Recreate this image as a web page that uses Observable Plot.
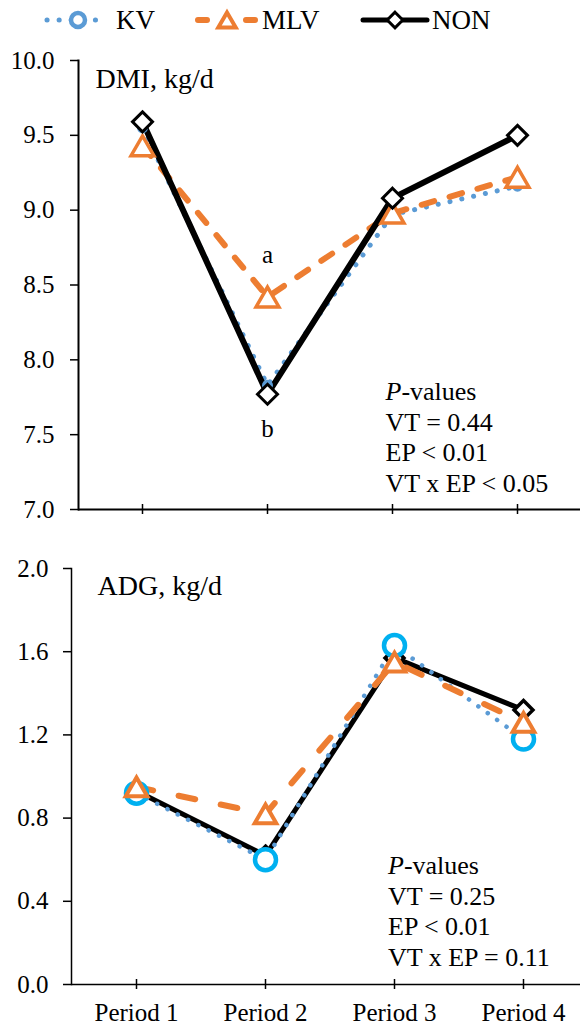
<!DOCTYPE html>
<html><head><meta charset="utf-8">
<script src="https://cdn.jsdelivr.net/npm/d3@7"></script>
<script src="https://cdn.jsdelivr.net/npm/@observablehq/plot@0.6"></script>
<style>
html,body{margin:0;padding:0;background:#fff;overflow:hidden;}
#chart{width:580px;height:1031px;}
#chart svg{display:block;}
</style></head><body><div id="chart"></div>
<script>
// ---- data ----
const periods = ["Period 1", "Period 2", "Period 3", "Period 4"];
const seriesNames = ["KV", "MLV", "NON"];
const dmiKV  = [9.55, 7.83, 8.97, 9.16];
const dmiMLV = [9.43, 8.42, 8.98, 9.22];
const dmiNON = [9.59, 7.77, 9.08, 9.50];
const adgKV  = [0.92, 0.60, 1.63, 1.18];
const adgMLV = [0.95, 0.82, 1.55, 1.26];
const adgNON = [0.93, 0.62, 1.57, 1.32];
const dmiTicks = [7.0, 7.5, 8.0, 8.5, 9.0, 9.5, 10.0];
const adgTicks = [0.0, 0.4, 0.8, 1.2, 1.6, 2.0];
const dmiTitle = "DMI, kg/d";
const adgTitle = "ADG, kg/d";
const dmiP = ["P-values", "VT = 0.44", "EP < 0.01", "VT x EP < 0.05"];
const adgP = ["P-values", "VT = 0.25", "EP < 0.01", "VT x EP = 0.11"];
const dmiLetters = ["a", "b"];

// ---- styles ----
const FONT = '"Liberation Serif", "Times New Roman", serif';
const KV_LINE = "#5B9BD5", KV_MARK = "#00B0F0", MLV_C = "#ED7D31", NON_C = "#000000";

const rows = vals => vals.map((v, i) => ({period: periods[i], value: v}));
const fmt = d3.format(".1f");

function italicP(svg) {
  d3.select(svg).selectAll("tspan, text").filter(function () {
    return this.childElementCount === 0 && this.textContent === "P-values";
  }).each(function () {
    this.textContent = "";
    const t = d3.select(this);
    t.append("tspan").attr("font-style", "italic").text("P");
    t.append("tspan").text("-values");
  });
}

const chart = document.getElementById("chart");

// ---- legend ----
const legend = d3.create("svg").attr("width", 580).attr("height", 40)
  .attr("font-family", FONT).attr("font-size", 27);
const ly = 20;
// KV
legend.append("line").attr("x1", 47).attr("x2", 97).attr("y1", ly).attr("y2", ly)
  .attr("stroke", KV_LINE).attr("stroke-width", 5).attr("stroke-linecap", "round").attr("stroke-dasharray", "0.1 12");
legend.append("circle").attr("cx", 78).attr("cy", ly).attr("r", 7)
  .attr("fill", "white").attr("stroke", KV_LINE).attr("stroke-width", 4.5);
legend.append("text").attr("x", 116).attr("y", 29).text(seriesNames[0]);
// MLV
legend.append("line").attr("x1", 198).attr("x2", 255).attr("y1", ly).attr("y2", ly)
  .attr("stroke", MLV_C).attr("stroke-width", 6).attr("stroke-linecap", "round").attr("stroke-dasharray", "9 39");
legend.append("path").attr("transform", `translate(227,${ly + 2.5})`)
  .attr("d", d3.symbol(d3.symbolTriangle, Math.PI * 6.5 * 6.5)())
  .attr("fill", "white").attr("stroke", MLV_C).attr("stroke-width", 4);
legend.append("text").attr("x", 262).attr("y", 29).text(seriesNames[1]);
// NON
legend.append("line").attr("x1", 363).attr("x2", 427).attr("y1", ly).attr("y2", ly)
  .attr("stroke", NON_C).attr("stroke-width", 5).attr("stroke-linecap", "round");
legend.append("path").attr("transform", `translate(395,${ly})`)
  .attr("d", d3.symbol(d3.symbolDiamond2, Math.PI * 7 * 7)())
  .attr("fill", "white").attr("stroke", NON_C).attr("stroke-width", 3);
legend.append("text").attr("x", 432).attr("y", 29).text(seriesNames[2]);
chart.appendChild(legend.node());

// ---- top panel: DMI ----
const dmiMin = dmiTicks[0], dmiMax = dmiTicks[dmiTicks.length - 1];
const topPlot = Plot.plot({
  width: 580, height: 489,
  marginTop: 20, marginBottom: 20, marginLeft: 78, marginRight: 0,
  style: {fontFamily: FONT, fontSize: "25px", color: "black", background: "white"},
  x: {type: "point", domain: periods, range: [78, 580], padding: 0.5, axis: null},
  y: {domain: [dmiMin, dmiMax]},
  marks: [
    Plot.axisY({ticks: dmiTicks, tickFormat: fmt, tickSize: 8, tickPadding: 16, strokeWidth: 1.5, fontSize: 25, label: null}),
    Plot.ruleY([dmiMin], {strokeWidth: 2}),
    Plot.frame({anchor: "left", strokeWidth: 2}),
    Plot.ruleX(periods, {x: d => d, y1: dmiMin, y2: dmiMin, insetTop: -5, insetBottom: -5, strokeWidth: 1.5}),
    Plot.line(rows(dmiKV), {x: "period", y: "value", stroke: KV_LINE, strokeWidth: 5, strokeLinecap: "round", strokeDasharray: "0.1 12"}),
    Plot.line(rows(dmiMLV), {x: "period", y: "value", stroke: MLV_C, strokeWidth: 6, strokeLinecap: "round", strokeDasharray: "13 16"}),
    Plot.line(rows(dmiNON), {x: "period", y: "value", stroke: NON_C, strokeWidth: 6}),
    Plot.dot(rows(dmiKV), {x: "period", y: "value", r: 5.5, fill: KV_LINE, stroke: "none"}),
    Plot.dot(rows(dmiMLV), {x: "period", y: "value", symbol: "triangle", r: 8.5, dy: 3.3, fill: "white", stroke: MLV_C, strokeWidth: 3.5}),
    Plot.dot(rows(dmiNON), {x: "period", y: "value", symbol: "diamond2", r: 9, fill: "white", stroke: NON_C, strokeWidth: 3}),
    Plot.text([{period: periods[1], value: dmiMLV[1], t: dmiLetters[0]}], {x: "period", y: "value", text: "t", dy: -42, fontSize: 25}),
    Plot.text([{period: periods[1], value: dmiNON[1], t: dmiLetters[1]}], {x: "period", y: "value", text: "t", dy: 35, fontSize: 25}),
    Plot.text([dmiTitle], {text: d => d, frameAnchor: "top-left", textAnchor: "start", lineAnchor: "top", dx: 17, dy: 8, fontSize: 28}),
    Plot.text([{period: periods[2], value: dmiMin, t: dmiP.join("\n")}], {x: "period", y: "value", text: "t", textAnchor: "start", lineAnchor: "bottom", lineHeight: 1.17, dx: -7, dy: -18, fontSize: 26})
  ]
});
italicP(topPlot);
chart.appendChild(topPlot);

// ---- bottom panel: ADG ----
const adgMin = adgTicks[0], adgMax = adgTicks[adgTicks.length - 1];
const botPlot = Plot.plot({
  width: 580, height: 502,
  marginTop: 39, marginBottom: 47, marginLeft: 71, marginRight: 0,
  style: {fontFamily: FONT, fontSize: "25px", color: "black", background: "white"},
  x: {type: "point", domain: periods, range: [71, 587], padding: 0.5},
  y: {domain: [adgMin, adgMax]},
  marks: [
    Plot.axisY({ticks: adgTicks, tickFormat: fmt, tickSize: 8, tickPadding: 15, strokeWidth: 1.5, fontSize: 25, label: null}),
    Plot.axisX({tickSize: 0, tickPadding: 19, fontSize: 25, label: null}),
    Plot.ruleY([adgMin], {strokeWidth: 1.5}),
    Plot.frame({anchor: "left", strokeWidth: 1.5}),
    Plot.ruleX(periods, {x: d => d, y1: adgMin, y2: adgMin, insetTop: -5, insetBottom: -5, strokeWidth: 1.5}),
    Plot.line(rows(adgNON), {x: "period", y: "value", stroke: NON_C, strokeWidth: 5}),
    Plot.line(rows(adgKV), {x: "period", y: "value", stroke: KV_LINE, strokeWidth: 4.5, strokeLinecap: "round", strokeDasharray: "0.1 11.5"}),
    Plot.line(rows(adgMLV), {x: "period", y: "value", stroke: MLV_C, strokeWidth: 6, strokeLinecap: "round", strokeDasharray: "17 26"}),
    Plot.dot(rows(adgNON), {x: "period", y: "value", symbol: "diamond2", r: 8.5, fill: "white", stroke: NON_C, strokeWidth: 3.5}),
    Plot.dot(rows(adgKV), {x: "period", y: "value", r: 10.5, fill: "white", stroke: KV_MARK, strokeWidth: 4.5}),
    Plot.dot(rows(adgMLV), {x: "period", y: "value", symbol: "triangle", r: 8, dy: 3.1, fill: "white", stroke: MLV_C, strokeWidth: 4}),
    Plot.text([adgTitle], {text: d => d, frameAnchor: "top-left", textAnchor: "start", lineAnchor: "top", dx: 26, dy: 7, fontSize: 28}),
    Plot.text([{period: periods[2], value: adgMin, t: adgP.join("\n")}], {x: "period", y: "value", text: "t", textAnchor: "start", lineAnchor: "bottom", lineHeight: 1.17, dx: -6.5, dy: -19, fontSize: 26})
  ]
});
italicP(botPlot);
chart.appendChild(botPlot);
</script>
</body></html>
